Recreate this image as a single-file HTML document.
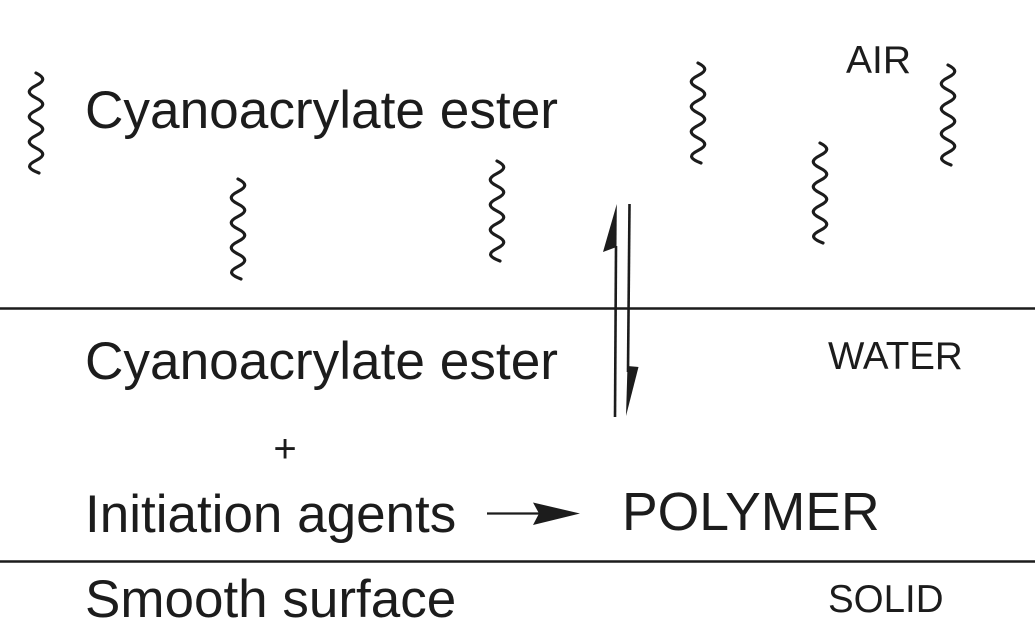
<!DOCTYPE html>
<html>
<head>
<meta charset="utf-8">
<style>
  html, body { margin: 0; padding: 0; background: #fff; }
  svg { display: block; }
  text { font-family: "Liberation Sans", Arial, sans-serif; fill: #1c1c1c; }
</style>
</head>
<body>
<svg width="1035" height="629" viewBox="0 0 1035 629" xmlns="http://www.w3.org/2000/svg">
  <!-- horizontal interface lines -->
  <line x1="0" y1="308.5" x2="1035" y2="308.5" stroke="#1c1c1c" stroke-width="2.6"/>
  <line x1="0" y1="561.5" x2="1035" y2="561.5" stroke="#1c1c1c" stroke-width="2.6"/>

  <!-- squiggles -->
  <g fill="none" stroke="#1c1c1c" stroke-width="3.2" stroke-linecap="round">
    <path d="M36 73 c9 4.5 9 8 0 12.5 s-9 8 0 12.5 s9 8 0 12.5 s-9 8 0 12.5 s9 8 0 12.5 s-9 8 0 12.5 s9 8 0 12.5 s-9 8 3 12.5"/>
    <path d="M238 179 c9 4.5 9 8 0 12.5 s-9 8 0 12.5 s9 8 0 12.5 s-9 8 0 12.5 s9 8 0 12.5 s-9 8 0 12.5 s9 8 0 12.5 s-9 8 3 12.5"/>
    <path d="M497 161 c9 4.5 9 8 0 12.5 s-9 8 0 12.5 s9 8 0 12.5 s-9 8 0 12.5 s9 8 0 12.5 s-9 8 0 12.5 s9 8 0 12.5 s-9 8 3 12.5"/>
    <path d="M698 63 c9 4.5 9 8 0 12.5 s-9 8 0 12.5 s9 8 0 12.5 s-9 8 0 12.5 s9 8 0 12.5 s-9 8 0 12.5 s9 8 0 12.5 s-9 8 3 12.5"/>
    <path d="M820 143 c9 4.5 9 8 0 12.5 s-9 8 0 12.5 s9 8 0 12.5 s-9 8 0 12.5 s9 8 0 12.5 s-9 8 0 12.5 s9 8 0 12.5 s-9 8 3 12.5"/>
    <path d="M948 65 c9 4.5 9 8 0 12.5 s-9 8 0 12.5 s9 8 0 12.5 s-9 8 0 12.5 s9 8 0 12.5 s-9 8 0 12.5 s9 8 0 12.5 s-9 8 3 12.5"/>
  </g>

  <!-- equilibrium arrows -->
  <line x1="616" y1="246" x2="615" y2="417" stroke="#1c1c1c" stroke-width="2.6"/>
  <polygon points="616.8,204 603,252 616.5,247" fill="#1c1c1c"/>
  <line x1="629.5" y1="204" x2="628" y2="372" stroke="#1c1c1c" stroke-width="2.6"/>
  <polygon points="627.5,366 638.5,367 626,416" fill="#1c1c1c"/>

  <!-- reaction arrow -->
  <line x1="487" y1="513.5" x2="542" y2="513.5" stroke="#1c1c1c" stroke-width="2.2"/>
  <polygon points="580,513.5 533,502.5 539,513.5 533,525" fill="#1c1c1c"/>

  <!-- labels -->
  <text x="85" y="128" font-size="53.2">Cyanoacrylate ester</text>
  <text x="846" y="73" font-size="39">AIR</text>
  <text x="85" y="379" font-size="53.2">Cyanoacrylate ester</text>
  <text x="828" y="369" font-size="38.5">WATER</text>
  <text x="285" y="462" font-size="40" text-anchor="middle">+</text>
  <text x="85" y="532" font-size="53">Initiation agents</text>
  <text x="622" y="530" font-size="53.5">POLYMER</text>
  <text x="85" y="617" font-size="53">Smooth surface</text>
  <text x="828" y="612" font-size="38.5">SOLID</text>
</svg>
</body>
</html>
